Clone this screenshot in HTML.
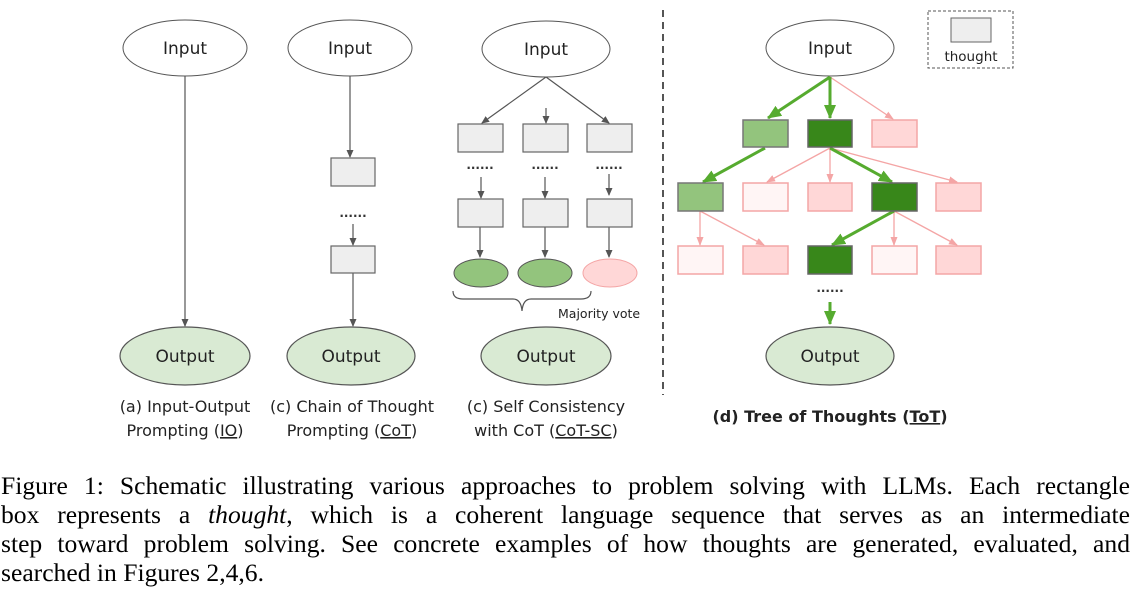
<!DOCTYPE html>
<html><head><meta charset="utf-8"><style>
body{margin:0;background:#fff;width:1135px;height:600px;overflow:hidden;position:relative}
.cap{position:absolute;left:1px;width:1129px;font-family:"Liberation Serif",serif;font-size:25.6px;color:#000;white-space:nowrap;line-height:29px}
.j{text-align:justify;text-align-last:justify;white-space:normal}
</style></head><body>
<svg width="1135" height="460" style="position:absolute;left:0;top:0" font-family="DejaVu Sans, Liberation Sans, sans-serif">
<defs>
<marker id="ag" markerWidth="8" markerHeight="8" refX="7" refY="4" orient="auto" markerUnits="userSpaceOnUse"><path d="M0,0.5 L8,4 L0,7.5z" fill="#555"/></marker>
<marker id="ap" markerWidth="9" markerHeight="8" refX="8" refY="4" orient="auto" markerUnits="userSpaceOnUse"><path d="M0,0.5 L9,4 L0,7.5z" fill="#f4a5a5"/></marker>
<marker id="aG" markerWidth="14" markerHeight="12" refX="13" refY="6" orient="auto" markerUnits="userSpaceOnUse"><path d="M0,0 L14,6 L0,12z" fill="#56ab2f"/></marker>
</defs>
<g stroke="#555" stroke-width="1" fill="#fff">
<ellipse cx="185" cy="48" rx="62" ry="28"/>
<ellipse cx="350" cy="48" rx="62" ry="28"/>
<ellipse cx="546" cy="49" rx="64" ry="28"/>
<ellipse cx="830" cy="48" rx="64" ry="28"/>
</g>
<g stroke="#555" stroke-width="1.2" fill="#d9ead3">
<ellipse cx="185" cy="356" rx="65" ry="29"/>
<ellipse cx="351" cy="356" rx="64" ry="29"/>
<ellipse cx="546" cy="356" rx="65" ry="29"/>
<ellipse cx="830" cy="356" rx="64" ry="29"/>
</g>
<g font-size="17" fill="#222" text-anchor="middle">
<text x="185" y="54">Input</text><text x="350" y="54">Input</text><text x="546" y="55">Input</text><text x="830" y="54">Input</text>
<text x="185" y="362">Output</text><text x="351" y="362">Output</text><text x="546" y="362">Output</text><text x="830" y="362">Output</text>
</g>
<g stroke="#555" stroke-width="1.2" fill="none" marker-end="url(#ag)">
<line x1="185" y1="76" x2="185" y2="326"/>
<line x1="350" y1="76" x2="350" y2="157"/>
<line x1="353" y1="224" x2="353" y2="245"/>
<line x1="353" y1="273" x2="353" y2="326"/>
<line x1="546" y1="77" x2="482" y2="123"/>
<line x1="546" y1="108" x2="546" y2="123"/>
<line x1="546" y1="77" x2="609" y2="123"/>
<line x1="481" y1="177" x2="481" y2="198"/>
<line x1="545" y1="177" x2="545" y2="198"/>
<line x1="609" y1="174" x2="609" y2="195"/>
<line x1="480" y1="227" x2="480" y2="257"/>
<line x1="545" y1="227" x2="545" y2="257"/>
<line x1="609" y1="227" x2="609" y2="257"/>
</g>
<g fill="#eee" stroke="#666" stroke-width="1.2">
<rect x="331" y="158" width="44" height="28"/><rect x="331" y="246" width="44" height="27"/>
<rect x="458" y="124" width="45" height="28"/><rect x="523" y="124" width="45" height="28"/><rect x="587" y="124" width="45" height="28"/>
<rect x="458" y="199" width="45" height="28"/><rect x="523" y="199" width="45" height="28"/><rect x="587" y="199" width="45" height="28"/>
</g>
<g font-size="12" fill="#333" text-anchor="middle" font-weight="bold">
<text x="353" y="217">......</text><text x="480" y="169">......</text><text x="545" y="169">......</text><text x="609" y="169">......</text><text x="830" y="292">......</text>
</g>
<ellipse cx="481" cy="273" rx="27" ry="14" fill="#93c47d" stroke="#555"/>
<ellipse cx="545" cy="273" rx="27" ry="14" fill="#93c47d" stroke="#555"/>
<ellipse cx="610" cy="273" rx="27" ry="14" fill="#ffd7d7" stroke="#f4a5a5"/>
<path d="M453,291 q0,8 10,8 h50 q8,0 9,12 q1,-12 9,-12 h50 q10,0 10,-8" fill="none" stroke="#555" stroke-width="1.2"/>
<text x="558" y="318" font-size="12.5" fill="#222">Majority vote</text>
<line x1="663" y1="10" x2="663" y2="395" stroke="#555" stroke-width="2" stroke-dasharray="7,5"/>
<rect x="928" y="11" width="85" height="57" fill="#fff" stroke="#555" stroke-dasharray="3,2"/>
<rect x="951" y="18" width="40" height="24" fill="#eee" stroke="#666"/>
<text x="971" y="61" font-size="13.5" text-anchor="middle" fill="#222">thought</text>
<g stroke="#f4a5a5" stroke-width="1.3" marker-end="url(#ap)">
<line x1="830" y1="77" x2="893" y2="119"/>
<line x1="830" y1="148" x2="767" y2="182"/>
<line x1="830" y1="148" x2="830" y2="182"/>
<line x1="830" y1="148" x2="957" y2="182"/>
<line x1="700" y1="211" x2="700" y2="245"/>
<line x1="700" y1="211" x2="764" y2="245"/>
<line x1="894" y1="211" x2="894" y2="245"/>
<line x1="894" y1="211" x2="957" y2="245"/>
</g>
<g stroke="#56ab2f" stroke-width="3" marker-end="url(#aG)">
<line x1="830" y1="77" x2="768" y2="118"/>
<line x1="830" y1="77" x2="830" y2="118"/>
<line x1="765" y1="148" x2="703" y2="182"/>
<line x1="830" y1="148" x2="892" y2="182"/>
<line x1="894" y1="211" x2="832" y2="245"/>
<line x1="830" y1="302" x2="830" y2="324"/>
</g>
<g stroke-width="1.5">
<rect x="743" y="120" width="45" height="27" fill="#93c47d" stroke="#777"/>
<rect x="808" y="120" width="44" height="27" fill="#38871a" stroke="#666"/>
<rect x="872" y="120" width="45" height="27" fill="#ffd7d7" stroke="#f4a5a5"/>
<rect x="678" y="183" width="45" height="28" fill="#93c47d" stroke="#777"/>
<rect x="743" y="183" width="45" height="28" fill="#fff5f5" stroke="#f4a5a5"/>
<rect x="808" y="183" width="44" height="28" fill="#ffd7d7" stroke="#f4a5a5"/>
<rect x="872" y="183" width="45" height="28" fill="#38871a" stroke="#666"/>
<rect x="936" y="183" width="45" height="28" fill="#ffd7d7" stroke="#f4a5a5"/>
<rect x="678" y="246" width="45" height="28" fill="#fff5f5" stroke="#f4a5a5"/>
<rect x="743" y="246" width="45" height="28" fill="#ffd7d7" stroke="#f4a5a5"/>
<rect x="808" y="246" width="44" height="28" fill="#38871a" stroke="#666"/>
<rect x="872" y="246" width="45" height="28" fill="#fff5f5" stroke="#f4a5a5"/>
<rect x="936" y="246" width="45" height="28" fill="#ffd7d7" stroke="#f4a5a5"/>
</g>
<g font-size="16" fill="#222" text-anchor="middle">
<text x="185" y="412">(a) Input-Output</text>
<text x="185" y="436">Prompting (<tspan text-decoration="underline">IO</tspan>)</text>
<text x="352" y="412">(c) Chain of Thought</text>
<text x="352" y="436">Prompting (<tspan text-decoration="underline">CoT</tspan>)</text>
<text x="546" y="412">(c) Self Consistency</text>
<text x="546" y="436">with CoT (<tspan text-decoration="underline">CoT-SC</tspan>)</text>
<text x="830" y="422" font-weight="bold">(d) Tree of Thoughts (<tspan text-decoration="underline">ToT</tspan>)</text>
</g>
</svg>
<div class="cap j" style="top:471px">Figure 1: Schematic illustrating various approaches to problem solving with LLMs. Each rectangle</div>
<div class="cap j" style="top:500px">box represents a <i>thought</i>, which is a coherent language sequence that serves as an intermediate</div>
<div class="cap j" style="top:529px">step toward problem solving. See concrete examples of how thoughts are generated, evaluated, and</div>
<div class="cap" style="top:558px">searched in Figures 2,4,6.</div>
</body></html>
